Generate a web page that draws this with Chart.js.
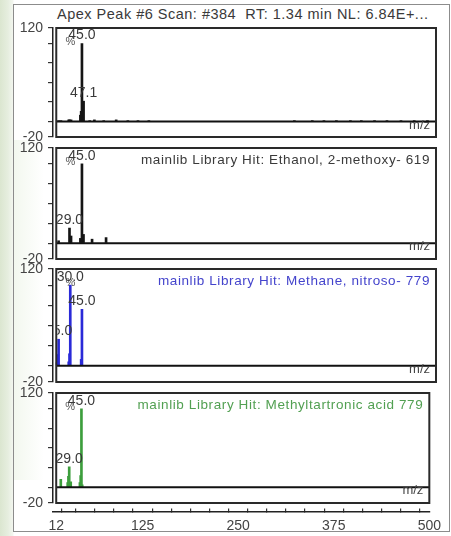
<!DOCTYPE html>
<html>
<head>
<meta charset="utf-8">
<script src="https://cdn.jsdelivr.net/npm/chart.js@4/dist/chart.umd.min.js"></script>
<style>
  html, body { margin: 0; padding: 0; background: #fff; }
  #wrap {
    position: relative; width: 451px; height: 536px; overflow: hidden;
    background: linear-gradient(90deg, #dbe6d0 0px, #e6eedf 8px, #f3f6ef 13px, #fff 14px);
  }
  #frame {
    position: absolute; left: 13px; top: 4px; width: 435px; height: 526px;
    border: 1px solid #8c8c8c; background: #fff;
  }
  #haze {
    position: absolute; left: 14px; top: 140px; width: 30px; height: 340px;
    background: linear-gradient(90deg, rgba(220,234,208,0.35), rgba(255,255,255,0));
  }
  #title {
    position: absolute; left: 57px; top: 6px; white-space: pre;
    font: 14.5px "Liberation Sans", Arial, sans-serif; letter-spacing: 0.5px; color: #3a3a3a;
  }
  canvas { position: absolute; left: 0; top: 0; }
</style>
</head>
<body>
<div id="wrap">
  <div id="frame"></div>
  <div id="haze"></div>
  <div id="title">Apex Peak #6 Scan: #384  RT: 1.34 min NL: 6.84E+...</div>
  <canvas id="c1" width="451" height="536"></canvas>
  <canvas id="c2" width="451" height="536"></canvas>
  <canvas id="c3" width="451" height="536"></canvas>
  <canvas id="c4" width="451" height="536"></canvas>
</div>
<script>
// ---- axes ----
const MZ_MIN = 12, MZ_MAX = 500;
const X_TICKS = [12, 25, 50, 75, 100, 125, 150, 175, 200, 225, 250, 275, 300, 325, 350, 375, 400, 425, 450, 475, 500];
const X_LABELS = [12, 125, 250, 375, 500];
const Y_TICKS = [-20, 0, 25, 50, 75, 100, 120];
const Y_LABELS = [-20, 120];

// ---- apex scan #384 (relative abundance, %) ----
const scanMz  = [15, 18, 28, 29, 31, 43, 44, 45, 46, 47.1, 55, 61, 73, 89, 104, 117, 131, 318, 341, 356, 372, 390, 404, 421, 437, 455, 472, 489];
const scanInt = [1, 1, 2, 2, 2, 8, 13, 100, 6, 26, 1, 2, 1, 2, 1, 1, 1, 1, 1, 1, 1, 1, 1, 1, 1, 1, 1, 1];
const scanPeaks = [45.0, 47.1];

// ---- library hit: Ethanol, 2-methoxy- ----
const ethMz  = [15, 29, 31, 43, 45, 47, 58, 76];
const ethInt = [3, 19, 9, 6, 100, 11, 5, 7];
const ethPeaks = [45.0, 29.0];

// ---- library hit: Methane, nitroso- ----
const nitMz  = [13, 14, 15, 28, 29, 30, 44, 45];
const nitInt = [4, 14, 33, 5, 15, 100, 8, 70];
const nitPeaks = [30.0, 45.0, 15.0];

// ---- library hit: Methyltartronic acid ----
const mtaMz  = [18, 27, 28, 29, 31, 43, 44, 45, 46];
const mtaInt = [10, 6, 14, 26, 7, 6, 15, 100, 3];
const mtaPeaks = [45.0, 29.0];

const FONT = '"Liberation Sans", Arial, sans-serif';
// the y axis sits a few pixels left of the spectrum frame
const AXIS_MZ = 7.8;

const panels = [
  { id: 'c1', mz: scanMz, ab: scanInt, peaks: scanPeaks, color: '#151515',
    header: '', headerColor: '#333', top: 28, bottom: 137 },
  { id: 'c2', mz: ethMz, ab: ethInt, peaks: ethPeaks, color: '#151515',
    header: 'mainlib Library Hit: Ethanol, 2-methoxy- 619', headerColor: '#3a3a3a', top: 148, bottom: 259 },
  { id: 'c3', mz: nitMz, ab: nitInt, peaks: nitPeaks, color: '#2a2ad8',
    header: 'mainlib Library Hit: Methane, nitroso- 779', headerColor: '#4444cc', top: 269, bottom: 382 },
  { id: 'c4', mz: mtaMz, ab: mtaInt, peaks: mtaPeaks, color: '#3c9e3c',
    header: 'mainlib Library Hit: Methyltartronic acid 779', headerColor: '#52a052', top: 393, bottom: 503 }
];

// frame, zero line, captions and peak labels of one spectrum panel
const panelDecor = {
  id: 'panelDecor',
  afterDatasetsDraw(chart, args, opts) {
    const { ctx, chartArea: a, scales } = chart;
    const y0 = scales.y.getPixelForValue(0);
    const left = scales.x.getPixelForValue(MZ_MIN);
    const right = scales.x.getPixelForValue(MZ_MAX);
    ctx.save();
    // zero line
    ctx.strokeStyle = '#111';
    ctx.lineWidth = 2;
    ctx.beginPath();
    ctx.moveTo(left, y0);
    ctx.lineTo(right, y0);
    ctx.stroke();
    // spectrum frame
    ctx.strokeStyle = '#2a2a2a';
    ctx.lineWidth = 2;
    ctx.strokeRect(left, a.top, right - left, a.bottom - a.top);

    ctx.beginPath();
    ctx.rect(left + 1, a.top + 1, right - left - 2, a.bottom - a.top - 2);
    ctx.clip();

    // unit caption
    ctx.fillStyle = '#555';
    ctx.font = '11px ' + FONT;
    ctx.textAlign = 'center';
    ctx.textBaseline = 'middle';
    ctx.fillText('%', left + 14, a.top + 14);

    // hit caption
    if (opts.header) {
      ctx.fillStyle = opts.headerColor;
      ctx.font = '13.5px ' + FONT;
      ctx.letterSpacing = '0.6px';
      ctx.textAlign = 'right';
      ctx.textBaseline = 'middle';
      ctx.fillText(opts.header, right - 6, a.top + 12);
      ctx.letterSpacing = '0px';
    }

    // axis caption
    ctx.fillStyle = '#444';
    ctx.font = '13px ' + FONT;
    ctx.textAlign = 'right';
    ctx.textBaseline = 'top';
    ctx.fillText('m/z', right - 6, y0 - 3);

    // peak labels
    const meta = chart.getDatasetMeta(0);
    ctx.fillStyle = '#3a3a3a';
    ctx.font = '14px ' + FONT;
    ctx.textAlign = 'center';
    ctx.textBaseline = 'bottom';
    opts.peaks.forEach(p => {
      const i = opts.mz.indexOf(p);
      if (i < 0) return;
      const el = meta.data[i];
      ctx.fillText(p.toFixed(1), el.x, el.y - 1);
    });
    ctx.restore();
  }
};

panels.forEach((p, k) => {
  const last = k === panels.length - 1;
  new Chart(document.getElementById(p.id), {
    type: 'bar',
    data: {
      datasets: [{
        data: p.mz.map((m, i) => ({ x: m, y: p.ab[i] })),
        backgroundColor: p.color,
        borderWidth: 0,
        barThickness: 2
      }]
    },
    options: {
      responsive: false,
      animation: false,
      devicePixelRatio: 1,
      events: [],
      layout: { padding: { left: 0, right: 15, top: p.top, bottom: 536 - p.bottom } },
      plugins: {
        legend: { display: false },
        tooltip: { enabled: false },
        panelDecor: { header: p.header, headerColor: p.headerColor, peaks: p.peaks, mz: p.mz }
      },
      scales: {
        x: {
          type: 'linear',
          min: AXIS_MZ,
          max: MZ_MAX,
          offset: false,
          display: last,
          position: last ? { y: -31 } : 'bottom',
          afterBuildTicks: s => { s.ticks = X_TICKS.map(v => ({ value: v })); },
          ticks: {
            autoSkip: false, maxRotation: 0, padding: 10,
            color: '#444', font: { family: FONT, size: 14 },
            callback: v => X_LABELS.includes(v) ? String(v) : ''
          },
          grid: { drawOnChartArea: false, tickLength: -4, color: '#333', lineWidth: 1.2 },
          border: { color: '#222', width: 1.5 }
        },
        y: {
          min: -20,
          max: 120,
          position: 'left',
          afterFit: s => { s.width = 53; },
          afterBuildTicks: s => { s.ticks = Y_TICKS.map(v => ({ value: v })); },
          ticks: {
            autoSkip: false, padding: 5,
            color: '#444', font: { family: FONT, size: 14 },
            callback: v => Y_LABELS.includes(v) ? String(v) : ''
          },
          grid: { drawOnChartArea: false, tickLength: 5, color: '#333', lineWidth: 1.2 },
          border: { color: '#222', width: 1.5 }
        }
      }
    },
    plugins: [panelDecor]
  });
});
</script>
</body>
</html>
